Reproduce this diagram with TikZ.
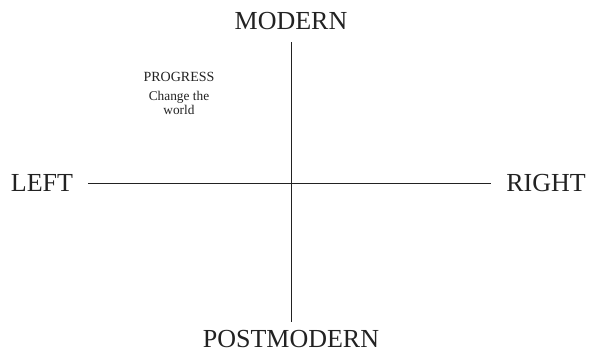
\documentclass[tikz,border=0pt]{standalone}
\usepackage{fontspec}
\setmainfont{Liberation Serif}
\usepackage{xcolor}
\usetikzlibrary{positioning}
\definecolor{inkgray}{HTML}{222222}
\tikzset{
  axlabel/.style={text=inkgray, font=\fontsize{19.5}{22}\selectfont, inner sep=0pt},
  quadhead/.style={text=inkgray, font=\fontsize{10.5}{12}\selectfont, inner sep=0pt},
  quadtext/.style={text=inkgray, align=center, font=\fontsize{10}{10}\selectfont, inner sep=0pt},
  axis/.style={draw=inkgray, line width=0.7pt}
}
\begin{document}
\begin{tikzpicture}[x=0.75pt,y=-0.75pt]
\useasboundingbox (0,0) rectangle (596,355);
\node[axlabel] (modern) at (291,21) {MODERN};
\node[axlabel] (postmod) at (291,339) {POSTMODERN};
\node[axlabel] (left) at (42,183) {LEFT};
\node[axlabel] (right) at (546,183) {RIGHT};
\node[quadhead] (prog) at (179,77) {PROGRESS};
\node[quadtext, below=7pt of prog] (progtxt) {Change the\\world};
\draw[axis, shorten <=9pt, shorten >=6pt] (modern) -- (postmod);
\draw[axis, shorten <=11pt, shorten >=11pt] (left) -- (right);
\end{tikzpicture}
\end{document}
